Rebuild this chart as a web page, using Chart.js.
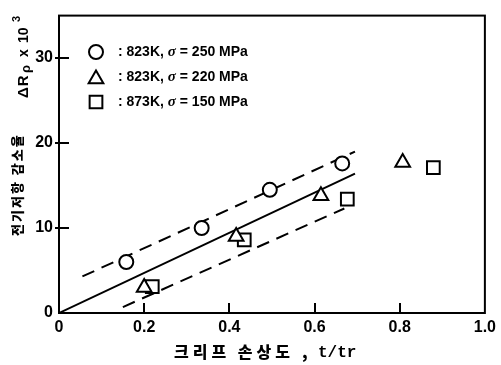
<!DOCTYPE html>
<html>
<head>
<meta charset="utf-8">
<script src="https://cdn.jsdelivr.net/npm/chart.js@4.4.0/dist/chart.umd.min.js"></script>
<style>
html,body{margin:0;padding:0;background:#fff}
#wrap{width:501px;height:365px;position:relative}
</style>
</head>
<body>
<div id="wrap"><canvas id="chart"></canvas></div>
<script>
// --- Data ---
const circleX = [0.158, 0.335, 0.495, 0.665];
const circleY = [6.0, 10.0, 14.5, 17.6];
const triX = [0.20, 0.416, 0.615, 0.807];
const triY = [3.0, 9.0, 13.8, 17.7];
const sqX = [0.219, 0.435, 0.677, 0.879];
const sqY = [3.1, 8.6, 13.4, 17.1];
const fitX = [0, 0.695];
const fitY = [0, 16.4];
const upperX = [0.055, 0.695];
const upperY = [4.3, 19.0];
const lowerX = [0.15, 0.67];
const lowerY = [0.7, 12.3];
const xTicks = [0, 0.2, 0.4, 0.6, 0.8, 1.0];
const yTicks = [0, 10, 20, 30];
const legendTemp = ['823K', '823K', '873K'];
const legendStress = ['250', '220', '150'];

const pts = (xs, ys) => xs.map((x, i) => ({x, y: ys[i]}));
const BOLD = '"Liberation Sans", Arial, sans-serif';
const KR = '"Noto Sans CJK KR", sans-serif';

function markerSet(label, xs, ys, style, r){
  return {label, data: pts(xs, ys), showLine:false, pointStyle:style, pointRadius:r,
    pointHoverRadius:r, pointBorderColor:'#000', pointBackgroundColor:'#fff',
    pointBorderWidth:2, order:0};
}
function lineSet(xs, ys, dash){
  return {data: pts(xs, ys), showLine:true, pointRadius:0, borderColor:'#000',
    borderWidth:2, borderDash:dash, fill:false, order:1};
}

// --- Frame, inward ticks, legend and axis titles ---
const decor = {
  id:'decor',
  afterDraw(chart){
    const {ctx, chartArea:a, scales:{x, y}} = chart;
    ctx.save();
    ctx.strokeStyle = '#000'; ctx.lineWidth = 2;
    ctx.strokeRect(a.left, a.top, a.right - a.left, a.bottom - a.top);
    // inward ticks
    yTicks.filter(v => v > 0).forEach(v => {
      const py = Math.round(y.getPixelForValue(v));
      ctx.beginPath(); ctx.moveTo(a.left - 4, py); ctx.lineTo(a.left + 10, py); ctx.stroke();
    });
    xTicks.filter(v => v > 0 && v < 1).forEach(v => {
      const px = Math.round(x.getPixelForValue(v));
      ctx.beginPath(); ctx.moveTo(px, a.bottom); ctx.lineTo(px, a.bottom - 10); ctx.stroke();
    });

    // legend
    const styles = ['circle', 'triangle', 'rect'];
    const radii = [7, 8.5, 9];
    const rows = [52, 77, 102];
    ctx.textBaseline = 'middle';
    rows.forEach((ry, i) => {
      ctx.lineWidth = 2; ctx.strokeStyle = '#000'; ctx.fillStyle = '#fff';
      Chart.helpers.drawPoint(ctx, {pointStyle: styles[i], radius: radii[i], borderWidth: 2}, 96, i === 1 ? ry + 2 : ry);
      ctx.fillStyle = '#000';
      let tx = 118;
      ctx.font = 'bold 14px ' + BOLD;
      let s = ': ' + legendTemp[i] + ', ';
      ctx.fillText(s, tx, ry); tx += ctx.measureText(s).width;
      ctx.font = 'italic bold 15px "Liberation Serif", serif';
      ctx.fillText('\u03c3', tx, ry); tx += ctx.measureText('\u03c3').width;
      ctx.font = 'bold 14px ' + BOLD;
      ctx.fillText(' = ' + legendStress[i] + ' MPa', tx, ry);
    });

    // y title (rotated), Korean part
    ctx.save();
    ctx.translate(17, 236);
    ctx.rotate(-Math.PI / 2);
    ctx.font = '900 13px ' + KR;
    ctx.textAlign = 'left'; ctx.textBaseline = 'middle';
    ctx.letterSpacing = '2px';
    ctx.fillText('전기저항 감소율', 0, 0);
    ctx.letterSpacing = '0px';
    ctx.restore();

    // y title, symbol part
    ctx.save();
    ctx.translate(28, 98);
    ctx.rotate(-Math.PI / 2);
    ctx.textBaseline = 'alphabetic'; ctx.textAlign = 'left';
    ctx.font = 'bold 15px ' + BOLD;
    ctx.letterSpacing = '1px';
    ctx.fillText('\u0394R', 0, 0);
    ctx.letterSpacing = '0px';
    ctx.font = 'bold 13px ' + BOLD;
    ctx.fillText('\u03c1', 25, 2);
    ctx.font = 'bold 14px ' + BOLD;
    ctx.fillText('x', 41, 0);
    ctx.fillText('10', 55, 0);
    ctx.font = 'bold 11px ' + BOLD;
    ctx.fillText('3', 76, -8);
    ctx.restore();

    // x title
    ctx.textBaseline = 'alphabetic'; ctx.textAlign = 'left';
    ctx.font = '900 16px ' + KR;
    ctx.letterSpacing = '4px';
    ctx.fillText('크리프 손상도', 174, 358);
    ctx.letterSpacing = '0px';
    ctx.fillText(',', 302, 358);
    ctx.font = 'bold 16px "Liberation Mono", monospace';
    ctx.fillText('t/tr', 318, 357);
    ctx.restore();
  }
};

new Chart(document.getElementById('chart'), {
  type: 'scatter',
  data: {
    datasets: [
      markerSet('823K, 250 MPa', circleX, circleY, 'circle', 7),
      markerSet('823K, 220 MPa', triX, triY, 'triangle', 8.5),
      markerSet('873K, 150 MPa', sqX, sqY, 'rect', 9),
      lineSet(fitX, fitY, []),
      lineSet(upperX, upperY, [13, 8]),
      lineSet(lowerX, lowerY, [13, 8])
    ]
  },
  options: {
    responsive: true,
    maintainAspectRatio: false,
    animation: false,
    layout: {padding: {left: 0, right: 12, top: 11, bottom: 0}},
    plugins: {legend: {display: false}, tooltip: {enabled: false}},
    scales: {
      x: {
        type: 'linear', min: 0, max: 1,
        afterBuildTicks: s => { s.ticks = xTicks.map(v => ({value: v})); },
        afterFit: s => { s.height = 52; },
        grid: {display: false, drawTicks: false},
        border: {display: false},
        ticks: {color: '#000', padding: 5, font: {family: BOLD, size: 16, weight: 'bold'},
          maxRotation: 0, callback: v => v === 0 ? '0' : v.toFixed(1)}
      },
      y: {
        type: 'linear', min: 0, max: 35,
        afterBuildTicks: s => { s.ticks = yTicks.map(v => ({value: v})); },
        afterFit: s => { s.width = 59; },
        grid: {display: false, drawTicks: false},
        border: {display: false},
        ticks: {color: '#000', padding: 6, font: {family: BOLD, size: 16, weight: 'bold'}}
      }
    }
  },
  plugins: [decor]
});
</script>
</body>
</html>
